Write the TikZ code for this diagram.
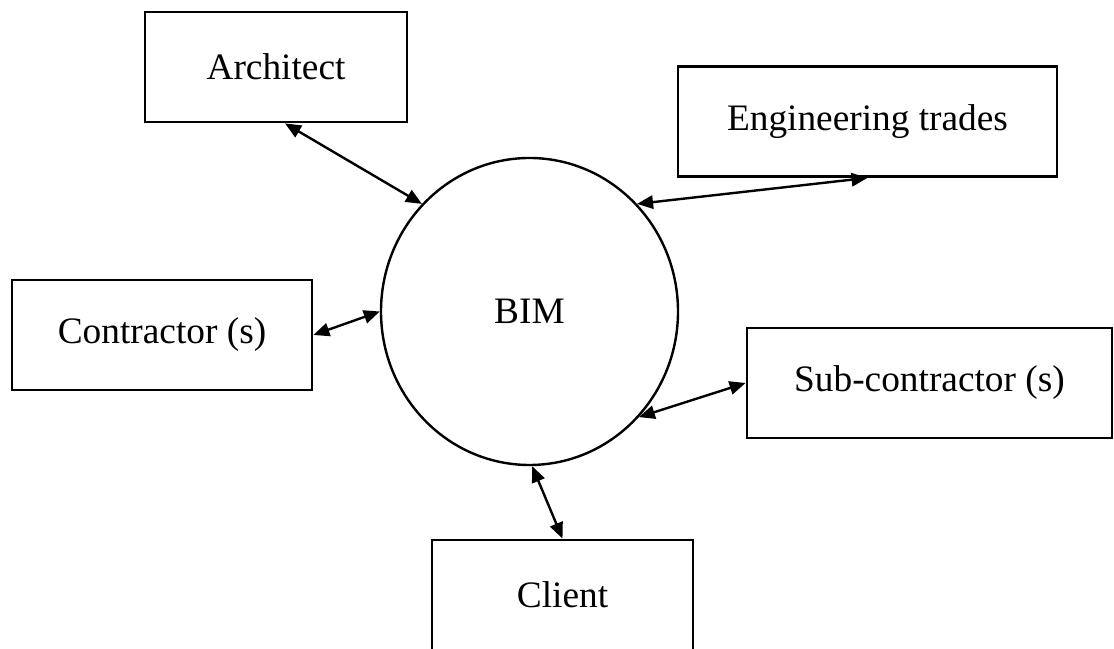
\documentclass[tikz,border=0pt]{standalone}
\usepackage{fontspec}
\setmainfont{Liberation Serif}
\usetikzlibrary{shapes.geometric, arrows.meta}

\begin{document}
\begin{tikzpicture}[
    x=0.75pt, y=0.75pt,
    party/.style={rectangle, draw, line width=2.1pt, inner sep=0pt, align=center, minimum height=82.5pt},
    hub/.style={ellipse, draw, line width=1.8pt, inner sep=0pt, minimum width=222.75pt, minimum height=230.25pt},
    link/.style={{Triangle[length=12pt,width=10pt]}-{Triangle[length=12pt,width=10pt]}, line width=1.8pt},
    every node/.append style={font=\fontsize{28}{34}\selectfont}
]
    \clip (0,0) rectangle (1114,649);

    % Centre
    \node[hub] (bim) at (529.5,337.5) {BIM};

    % Parties
    \node[party, minimum width=196.5pt]  (architect)   at (276,582)    {Architect};
    \node[party, minimum width=284.25pt] (engineering) at (867.5,527.5) {Engineering trades};
    \node[party, minimum width=225pt]    (contractor)  at (162,314)    {Contractor (s)};
    \node[party, minimum width=273.75pt] (subcontractor) at (929.5,266) {Sub-contractor (s)};
    \node[party, minimum width=195.75pt] (client)      at (562.5,54)   {Client};

    % Links
    \draw[link] ([xshift=6.75pt]architect.south) -- (bim.135);
    \draw[link] (bim.45) -- (engineering.south);
    \draw[link] (contractor.east) -- (bim.180);
    \draw[link] (bim.-44) -- (subcontractor.west);
    \draw[link] (bim.-89) -- (client.north);

\end{tikzpicture}
\end{document}
